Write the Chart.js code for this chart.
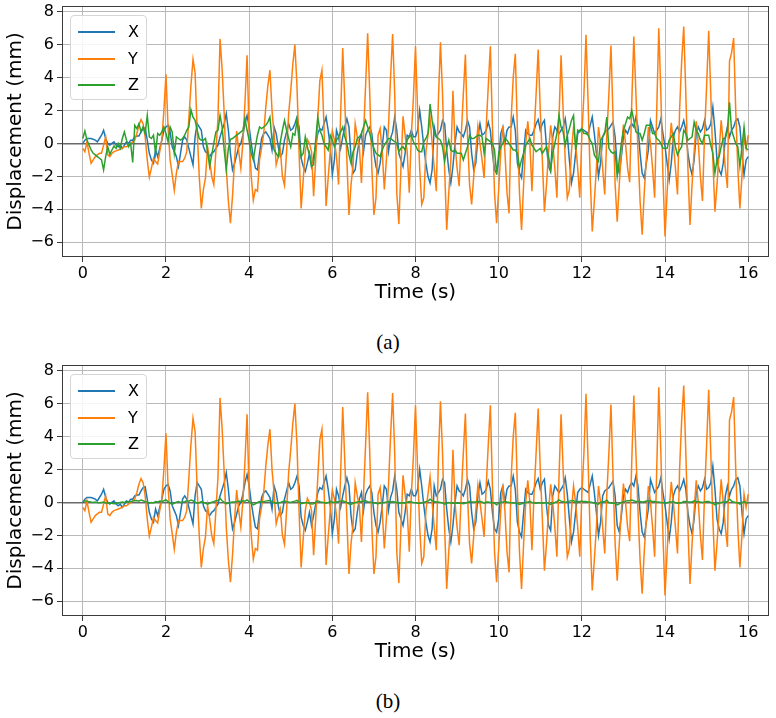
<!DOCTYPE html>
<html>
<head>
<meta charset="utf-8">
<script src="https://cdn.jsdelivr.net/npm/chart.js@4.4.0/dist/chart.umd.min.js"></script>
<style>
  body { margin: 0; background: #fff; width: 776px; height: 718px; position: relative; overflow: hidden; }
  .panel { position: absolute; left: 0; width: 776px; height: 305px; }
  canvas { display: block; }
  .legend { position: absolute; left: 70px; width: 77px; height: 85px; box-sizing: border-box;
            border: 1px solid #d6d6d6; border-radius: 4px; background: rgba(255,255,255,0.85);
            font: 16px "DejaVu Sans"; color: #000; }
  .legend .row { position: absolute; left: 0; width: 77px; height: 20px; }
  .legend .swatch { position: absolute; left: 7px; top: 9px; width: 37px; height: 2px; }
  .legend .lbl { position: absolute; left: 57px; top: 0; line-height: 20px; }
  .caption { position: absolute; left: 0; width: 776px; text-align: center; font: 21px "Liberation Serif"; line-height: 22px; color: #000; }
</style>
</head>
<body>
<div class="panel" style="top:0px"><canvas id="chartA" width="776" height="305"></canvas></div>
<div class="panel" style="top:359px"><canvas id="chartB" width="776" height="305"></canvas></div>
<div class="caption" style="top:331px">(a)</div>
<div class="caption" style="top:690px">(b)</div>

<script>
// sample spacing in seconds
const dt = 0.05;
const seriesNames = ['X', 'Y', 'Z'];
const seriesColors = ['#1f77b4', '#ff7f0e', '#2ca02c'];
const xTicks = [0, 2, 4, 6, 8, 10, 12, 14, 16];
const yTicks = [-6, -4, -2, 0, 2, 4, 6, 8];

// X displacement (mm), same in both panels
const dispX = [
  0.0,0.2,0.3,0.3,0.3,0.25,0.2,0.1,0.3,0.5,0.8,0.3,0.0,-0.1,0.0,0.1,-0.1,-0.2,-0.1,-0.3,
  -0.1,0.1,0.0,0.2,0.2,0.4,0.45,0.45,0.7,0.9,0.95,0.2,-0.6,-1.0,-1.2,-0.4,-0.8,-0.3,0.2,0.8,
  1.0,1.1,0.7,-0.2,-0.5,-0.8,-1.4,-0.6,0.2,0.4,0.2,-0.3,-0.8,-1.3,0.4,1.2,1.0,0.8,-0.2,-0.5,
  -0.6,-0.8,-0.6,-0.5,-0.3,-0.1,0.4,0.8,1.2,1.8,0.8,-0.6,-1.6,-1.2,-0.7,-0.2,0.0,0.5,1.2,1.7,
  1.0,0.0,-0.8,-1.5,-1.6,-0.6,0.3,0.6,0.7,0.5,0.3,-0.4,1.0,0.6,-0.2,-0.8,-0.6,0.2,0.7,1.2,
  0.8,0.9,1.2,1.6,1.0,-0.9,-1.4,-1.7,-1.2,-0.6,-1.4,-0.8,-0.1,0.6,0.9,0.8,1.2,1.6,0.8,-0.2,
  -1.9,-1.0,0.8,0.4,-0.3,0.4,1.0,1.5,1.0,-0.8,-1.8,-1.6,-0.6,0.2,0.6,-0.5,0.5,0.8,1.0,0.6,
  -0.6,-1.4,-1.8,-1.2,-0.2,1.0,0.8,-0.5,0.3,0.7,1.6,0.8,-0.6,-1.0,-1.4,-0.6,0.5,0.4,0.8,0.4,
  0.4,0.8,2.0,1.0,-0.2,-1.2,-2.0,-2.4,-1.6,1.0,0.4,0.6,0.8,1.4,1.2,-0.4,-1.6,-2.4,-1.4,0.0,
  1.0,0.7,0.6,0.4,0.8,1.4,1.0,-0.6,-1.6,-1.2,0.4,1.2,0.5,0.6,0.8,1.3,0.8,-0.6,-1.6,-1.8,
  -1.0,0.6,1.0,0.0,0.8,1.0,1.0,1.6,0.8,-1.2,-1.8,-2.1,-0.6,0.8,0.6,0.5,0.5,0.8,1.2,1.45,
  0.8,1.2,1.4,-0.2,-1.4,-1.7,0.4,1.0,0.8,0.6,0.8,1.0,1.5,0.5,-1.0,-2.4,-1.8,-0.6,0.6,0.8,
  0.9,0.8,0.7,0.6,1.1,1.6,0.6,-0.6,-2.0,-1.2,0.4,0.7,0.8,0.9,1.1,1.3,0.4,-1.4,-1.8,-0.8,
  0.4,0.8,0.6,1.0,1.2,1.0,1.6,1.0,-0.6,-1.8,-2.1,-1.2,-0.4,1.4,1.0,0.6,0.8,1.0,1.5,0.6,
  -0.2,-1.2,-2.2,-1.2,0.4,0.8,1.0,0.7,1.0,1.4,0.8,-0.6,-1.4,-1.9,-1.0,0.6,1.0,0.7,0.9,1.4,
  0.8,0.9,1.2,2.2,0.8,-1.0,-1.6,-1.9,-1.2,0.4,1.0,0.4,0.8,1.0,1.4,1.5,1.0,-0.6,-1.9,-1.0,
  -0.8
];

// Y displacement (mm), same in both panels
const dispY = [
  -0.3,-0.5,0.1,-0.6,-1.2,-1.0,-0.8,-0.7,-0.6,-0.6,-0.1,0.4,-0.7,-0.8,-0.6,-0.5,-0.45,-0.4,-0.35,-0.3,
  -0.2,-0.2,-0.1,0.0,0.1,0.2,0.6,1.1,1.45,1.2,0.4,-1.0,-2.05,-1.5,-0.9,-1.1,-1.25,-0.5,0.2,2.0,
  4.2,1.0,-1.0,-1.9,-2.85,-1.8,-1.1,-1.1,-1.1,-0.9,-0.5,1.5,3.5,5.1,4.3,0.8,-2.0,-3.95,-2.8,-2.1,
  -0.2,-1.0,-2.0,-2.5,-0.5,1.5,6.35,4.5,1.8,-1.5,-3.5,-4.85,-3.2,-1.0,0.75,-0.5,-1.5,0.1,2.5,5.35,
  0.5,-2.0,-3.45,-2.8,-2.9,-1.0,-0.25,0.6,2.2,3.5,4.45,2.0,0.55,-1.3,-0.8,-0.4,-2.0,-2.55,-0.5,1.8,
  3.2,4.8,6.0,3.5,-0.5,-3.95,-2.2,-0.5,0.25,0.0,-0.5,-3.2,-1.0,1.5,3.8,4.45,1.0,-3.8,-2.1,-0.5,
  0.75,0.2,-0.8,-2.5,1.8,5.8,2.5,-1.0,-4.35,-2.5,-1.3,1.2,0.4,-0.2,-2.4,0.5,3.5,6.7,3.0,-1.5,
  -4.35,-3.3,0.5,0.9,-0.5,-2.8,-1.0,1.0,4.0,6.65,3.0,-3.0,-4.9,-1.5,1.65,0.5,-0.5,-3.0,0.5,2.8,
  5.9,2.0,-1.5,-3.7,-3.3,-0.5,0.5,1.55,0.0,-1.5,-2.9,2.6,6.15,3.0,-1.5,-5.25,-3.0,-1.0,3.2,0.0,
  -1.5,-2.6,0.5,3.0,5.4,0.5,-2.5,-3.7,-2.0,-0.5,1.05,0.0,-1.0,-2.1,1.0,3.5,5.9,1.0,-3.0,-4.85,
  -2.8,-0.5,1.05,-0.5,-3.0,-4.25,1.5,4.0,5.45,0.8,-3.0,-5.25,-2.5,0.0,1.35,0.0,-2.9,0.5,3.0,5.7,
  2.0,-1.0,-4.15,-2.5,-0.5,1.1,0.0,-1.5,-3.3,1.5,5.35,2.0,-1.0,-3.3,-2.8,-0.5,1.0,0.0,-1.5,-3.3,
  0.5,3.0,6.6,2.5,-2.0,-5.35,-3.5,-1.5,1.0,0.0,-1.5,-3.1,0.5,3.0,5.95,1.5,-2.5,-4.75,-2.5,-0.5,
  1.15,0.0,-1.5,-2.35,2.5,6.5,3.0,-0.5,-3.5,-5.55,-3.0,-1.0,1.0,0.0,-1.5,-3.3,2.0,7.0,3.0,-2.0,
  -5.65,-3.0,-0.5,1.25,0.0,-1.5,-3.1,2.0,5.0,7.1,3.0,-1.5,-4.95,-2.5,-0.5,1.35,0.0,-2.0,-3.5,0.5,
  3.5,6.85,3.0,-1.0,-4.15,-2.5,-0.5,1.4,0.0,-1.5,-2.7,5.0,5.5,6.4,2.0,-1.5,-3.95,-2.0,0.5,-0.3,
  0.5
];

// Z displacement (mm), panel (a)
const dispZa = [
  0.3,0.75,0.2,-0.1,-0.4,-0.6,-0.7,-0.8,-0.9,-1.0,-1.6,-0.8,-0.2,-0.65,-0.4,-0.15,-0.3,0.0,-0.3,0.3,
  0.7,0.2,-0.2,0.0,-1.15,1.1,0.9,1.2,0.7,1.0,0.6,1.7,0.4,0.3,0.5,-0.6,0.6,0.5,0.7,1.0,
  0.6,0.1,1.0,0.7,-0.6,0.4,0.3,0.2,0.3,0.5,0.8,1.0,2.05,1.6,1.4,0.8,0.3,0.2,0.2,0.3,
  -0.5,-1.4,-0.7,0.0,0.7,0.8,1.7,1.0,-0.4,-1.6,-0.3,0.25,0.3,0.4,0.5,0.6,0.7,0.8,1.5,0.8,
  0.2,-0.6,-1.0,-0.2,0.5,1.0,0.9,1.0,1.1,1.3,1.6,0.2,-0.4,-0.6,-0.8,0.1,0.8,1.4,0.8,0.3,
  -0.2,0.6,0.5,1.4,0.3,-0.8,-0.6,0.4,-0.2,-0.7,-1.4,-1.3,0.2,1.6,0.8,0.5,0.0,-0.2,-0.4,0.5,
  0.2,-0.2,0.2,0.4,0.7,1.0,0.4,0.0,-0.7,-1.2,-0.5,-0.2,0.3,0.4,0.6,1.0,1.4,1.0,0.6,0.1,
  -0.3,-0.6,-0.7,-0.8,-0.4,-0.1,0.1,0.3,0.3,0.2,0.1,0.0,-0.5,-0.3,-0.2,-0.4,0.2,0.4,0.5,0.1,
  -0.1,-0.4,-0.5,-0.5,0.1,0.3,0.6,2.4,1.4,0.6,0.4,0.3,0.2,-0.2,-1.1,-0.3,0.2,-0.4,-0.5,-0.4,
  -0.6,-0.6,-0.6,-1.0,-0.6,-0.2,0.5,0.3,0.3,0.4,0.5,0.5,0.4,-0.6,0.3,0.2,0.1,0.0,-0.4,-1.9,
  -0.6,-0.2,0.0,0.3,0.2,0.0,-0.2,-0.4,-0.4,-0.6,-1.5,-1.0,-0.6,-0.1,0.1,0.3,-0.1,-0.3,-0.5,-0.4,
  -0.3,-0.6,-0.4,-0.2,-0.8,-1.6,-0.6,0.0,0.6,1.7,1.0,0.7,-0.1,0.5,0.9,1.4,1.7,-0.4,0.8,0.7,
  0.9,0.6,0.6,0.5,0.2,0.0,-0.7,-0.9,-1.1,0.2,0.4,0.6,1.6,-0.3,-0.5,-0.6,-0.5,-2.0,-1.0,0.0,
  0.8,1.2,1.6,1.5,2.0,1.4,0.7,0.6,0.6,0.2,0.6,1.1,1.1,1.1,0.6,0.6,0.3,0.2,0.0,-0.3,
  -0.3,-0.3,0.2,0.4,0.6,-0.2,-0.7,-0.4,-0.2,0.8,0.6,0.2,0.3,0.4,1.3,0.8,0.6,0.2,0.0,0.5,
  0.5,0.5,-0.1,-0.6,-1.8,-1.0,-0.8,-0.2,0.3,0.3,0.8,2.5,0.8,0.4,0.0,-0.2,-1.4,-0.2,1.0,-0.3,
  -0.4
];

// Z displacement (mm), panel (b)
const dispZb = [
  0.05,0.1,0.08,0.05,0.02,0.0,0.03,0.0,-0.02,0.0,0.02,-0.03,-0.05,-0.02,-0.05,-0.08,-0.05,-0.03,0.0,0.02,
  0.0,0.05,0.02,0.05,0.08,0.1,0.12,0.08,0.15,0.1,0.05,0.02,-0.05,0.0,-0.03,0.05,0.02,0.08,0.05,0.1,
  0.15,0.05,-0.05,-0.1,-0.05,0.02,0.05,0.0,0.02,0.05,0.1,0.08,0.15,0.1,0.02,-0.05,-0.02,0.05,0.0,-0.05,
  -0.1,-0.05,0.02,0.05,0.1,0.12,0.25,0.1,0.0,-0.08,-0.05,0.0,0.03,0.02,0.05,0.08,0.05,0.1,0.08,0.15,
  0.05,-0.05,-0.15,-0.08,0.0,0.05,0.02,0.05,0.08,0.1,0.12,0.05,-0.02,-0.05,-0.03,0.0,0.05,0.1,0.05,0.02,
  0.0,0.05,0.08,0.12,0.02,-0.08,-0.05,0.0,-0.02,-0.05,-0.1,-0.08,0.0,0.1,0.05,0.02,-0.02,-0.05,0.0,0.05,
  0.02,0.0,0.03,0.05,0.08,0.1,0.05,0.0,-0.08,-0.12,-0.05,0.0,0.03,0.05,0.05,0.08,0.1,0.05,0.02,0.0,
  -0.03,-0.05,-0.08,-0.05,-0.02,0.0,0.02,0.05,0.03,0.05,0.02,0.0,-0.05,-0.03,-0.02,-0.05,0.02,0.05,0.03,0.0,
  -0.02,-0.05,-0.05,-0.03,0.02,0.05,0.08,0.2,0.1,0.05,0.03,0.02,0.0,-0.03,-0.1,-0.05,0.0,-0.03,-0.05,-0.03,
  -0.05,-0.05,-0.05,-0.08,-0.05,0.0,0.05,0.03,0.02,0.03,0.05,0.05,0.03,-0.05,0.02,0.02,0.0,0.0,-0.05,-0.15,
  -0.05,0.0,0.02,0.05,0.02,0.0,-0.02,-0.03,-0.03,-0.05,-0.12,-0.08,-0.05,0.0,0.02,0.05,0.0,-0.03,-0.05,-0.03,
  -0.02,-0.05,-0.03,0.0,-0.05,-0.12,-0.05,0.0,0.05,0.15,0.08,0.05,0.0,0.05,0.08,0.1,0.12,-0.02,0.05,0.05,
  0.08,0.05,0.05,0.03,0.02,0.0,-0.05,-0.08,-0.1,0.02,0.03,0.05,0.15,-0.02,-0.03,-0.05,-0.03,-0.15,-0.08,0.0,
  0.05,0.08,0.1,0.1,0.15,0.1,0.05,0.05,0.05,0.02,0.05,0.08,0.08,0.1,0.05,0.05,0.03,0.02,0.0,-0.02,
  -0.03,-0.03,0.02,0.03,0.05,-0.02,-0.05,-0.03,-0.02,0.05,0.05,0.02,0.03,0.03,0.1,0.05,0.05,0.02,0.0,0.03,
  0.05,0.05,0.0,-0.05,-0.15,-0.08,-0.05,0.0,0.02,0.03,0.05,0.2,0.08,0.03,0.0,-0.02,-0.1,-0.02,0.05,-0.02,
  -0.03
];

Chart.defaults.font.family = '"DejaVu Sans"';
Chart.defaults.color = '#000';

function toPoints(vals) {
  return vals.map((v, i) => ({ x: +(i * dt).toFixed(2), y: v }));
}

function minusSign(v) {
  return v < 0 ? '\u2212' + Math.abs(v) : String(v);
}

// box around the plot area, like matplotlib spines
const framePlugin = {
  id: 'frame',
  afterDatasetsDraw(chart) {
    const a = chart.chartArea, ctx = chart.ctx;
    ctx.save();
    ctx.strokeStyle = '#3a3a3a';
    ctx.lineWidth = 1;
    ctx.strokeRect(a.left + 0.5, a.top + 0.5, a.right - a.left - 1, a.bottom - a.top - 1);
    ctx.restore();
  }
};

function addLegend(top) {
  const box = document.createElement('div');
  box.className = 'legend';
  box.style.top = top + 'px';
  seriesNames.forEach((name, i) => {
    const row = document.createElement('div');
    row.className = 'row';
    row.style.top = (6 + i * 26.5) + 'px';
    row.innerHTML = '<div class="swatch" style="background:' + seriesColors[i] + '"></div><div class="lbl">' + name + '</div>';
    box.appendChild(row);
  });
  document.body.appendChild(box);
}

function makeChart(id, zVals) {
  const series = [dispX, dispY, zVals];
  const datasets = series.map((vals, i) => ({
    label: seriesNames[i],
    data: toPoints(vals),
    borderColor: seriesColors[i],
    backgroundColor: seriesColors[i],
    borderWidth: 1.5,
    pointRadius: 0,
    tension: 0,
    fill: false,
    order: 2 - i
  }));

  return new Chart(document.getElementById(id), {
    type: 'line',
    data: { datasets },
    options: {
      responsive: false,
      animation: false,
      events: [],
      layout: { padding: { left: 0, right: 7, top: 6, bottom: 0 } },
      plugins: { legend: { display: false }, tooltip: { enabled: false } },
      scales: {
        x: {
          type: 'linear',
          min: -0.5,
          max: 16.5,
          afterBuildTicks: (s) => { s.ticks = xTicks.map(v => ({ value: v })); },
          afterFit: (s) => { s.height = 48; s.paddingLeft = 0; s.paddingRight = 0; },
          ticks: { font: { size: 16 }, padding: 2, maxRotation: 0, callback: minusSign },
          grid: { color: '#b9b9b9', lineWidth: 1, tickColor: '#3a3a3a', tickLength: 5, tickWidth: 1 },
          border: { display: false },
          title: { display: true, text: 'Time (s)', font: { size: 20 }, padding: { top: 0, bottom: 0 } }
        },
        y: {
          min: -6.9,
          max: 8.35,
          afterBuildTicks: (s) => { s.ticks = yTicks.map(v => ({ value: v })); },
          afterFit: (s) => { s.width = 62; s.paddingTop = 0; s.paddingBottom = 0; },
          ticks: { font: { size: 16 }, padding: 3, callback: minusSign },
          grid: {
            color: (c) => (c.tick && c.tick.value === 0 ? '#6a6a6a' : '#b9b9b9'),
            lineWidth: (c) => (c.tick && c.tick.value === 0 ? 1.4 : 1),
            tickColor: '#3a3a3a', tickLength: 5, tickWidth: 1
          },
          border: { display: false },
          title: { display: true, text: 'Displacement (mm)', font: { size: 20 }, padding: { top: 4, bottom: 0 } }
        }
      }
    },
    plugins: [framePlugin]
  });
}

makeChart('chartA', dispZa);
makeChart('chartB', dispZb);
addLegend(15);
addLegend(374);
</script>
</body>
</html>
